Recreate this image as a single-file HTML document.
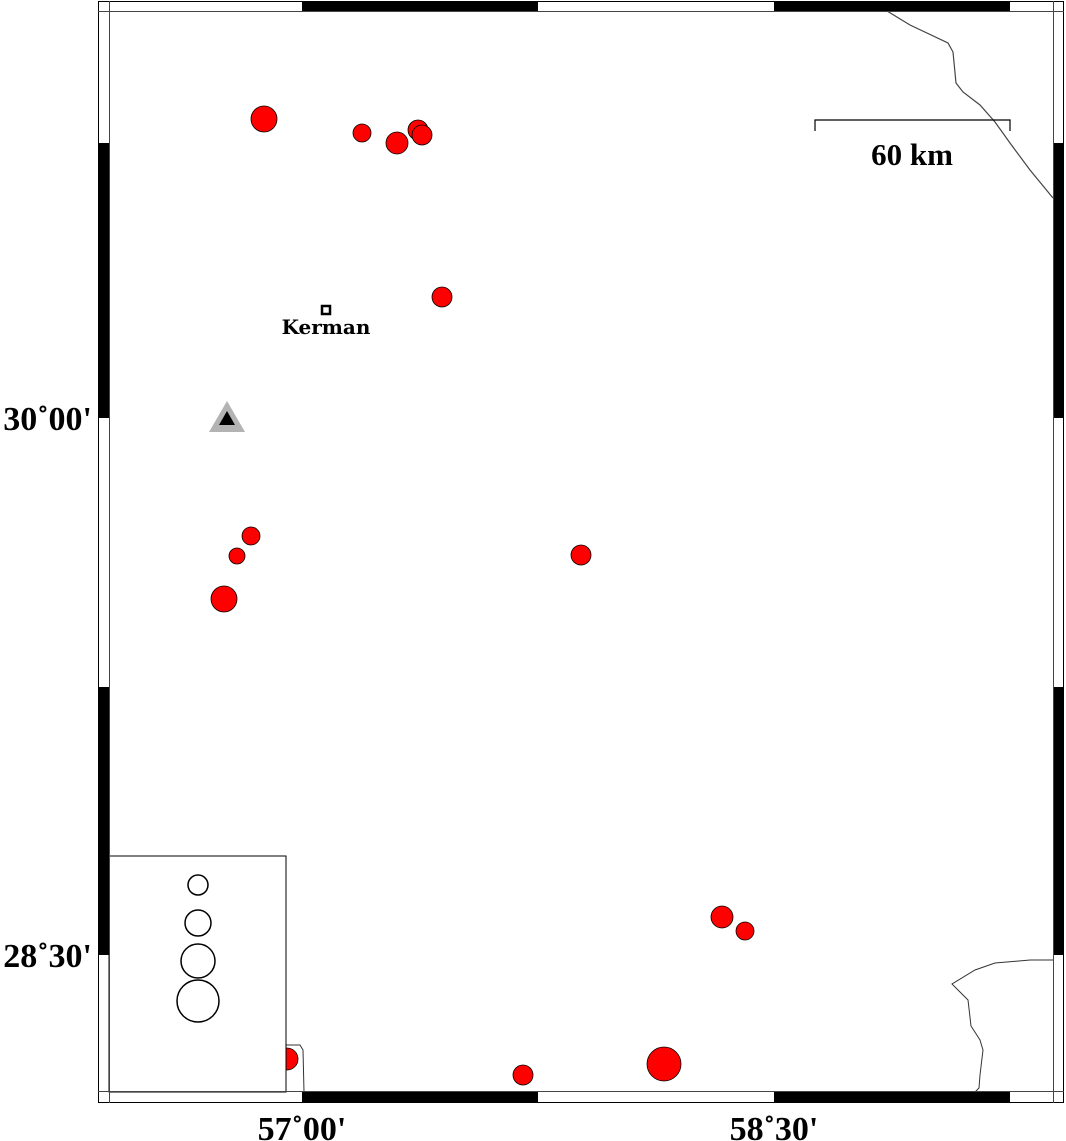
<!DOCTYPE html>
<html><head><style>
html,body{margin:0;padding:0;background:#fff;}
svg{display:block;}
</style></head><body>
<svg width="1066" height="1141" xmlns="http://www.w3.org/2000/svg">
<rect x="0" y="0" width="1066" height="1141" fill="#fff"/>
<polyline fill="none" stroke="#444" stroke-width="1.2" points="887,11 910,25 948,43 953,52 956,83 963,92 980,105 995,122 1010,143 1030,170 1053,198"/>
<polyline fill="none" stroke="#333" stroke-width="1" points="1054,960 1030,960 995,963 975,970 952,984 958,990 968,1000 971,1026 980,1040 983,1050 980,1075 979,1088 975,1092"/>
<polyline fill="none" stroke="#333" stroke-width="1" points="286,1045 300,1045 303,1050 304,1092"/>
<g fill="#ff0000" stroke="#000" stroke-width="0.8">
<circle cx="264" cy="119" r="13"/>
<circle cx="362" cy="133" r="9"/>
<circle cx="397" cy="143" r="11"/>
<circle cx="418" cy="130" r="10"/>
<circle cx="422" cy="135" r="10"/>
<circle cx="442" cy="297" r="10"/>
<circle cx="251" cy="536" r="9"/>
<circle cx="237" cy="556" r="8"/>
<circle cx="224" cy="599" r="13"/>
<circle cx="581" cy="555" r="10"/>
<circle cx="722" cy="917" r="11"/>
<circle cx="745" cy="931" r="9"/>
<circle cx="664" cy="1064" r="17"/>
<circle cx="523" cy="1075" r="10"/>
<circle cx="287" cy="1059" r="11"/>
</g>
<rect x="109" y="856" width="177" height="236" fill="#fff" stroke="#000" stroke-width="1"/>
<g fill="none" stroke="#000" stroke-width="1.5">
<circle cx="198" cy="885" r="10"/>
<circle cx="198" cy="923" r="13"/>
<circle cx="198" cy="961" r="17"/>
<circle cx="198" cy="1001" r="21"/>
</g>
<polygon points="227,401 209,432 245,432" fill="#b3b3b3"/>
<polygon points="227,411 219,425 235,425" fill="#000"/>
<rect x="322" y="306" width="8" height="8" fill="#fff" stroke="#000" stroke-width="2.5"/>
<text x="326" y="334" text-anchor="middle" font-family="'DejaVu Serif',serif" font-weight="bold" font-size="20">Kerman</text>
<polyline fill="none" stroke="#000" stroke-width="1.2" points="815,131 815,120 1010,120 1010,131"/>
<text x="912" y="165" text-anchor="middle" font-family="'Liberation Serif',serif" font-weight="bold" font-size="31">60 km</text>
<g fill="#000">
<rect x="302" y="1" width="236" height="10"/>
<rect x="774" y="1" width="236" height="10"/>
<rect x="302" y="1092" width="236" height="11"/>
<rect x="774" y="1092" width="236" height="11"/>
<rect x="98" y="143" width="11" height="275"/>
<rect x="98" y="687" width="11" height="268"/>
<rect x="1054" y="143" width="10" height="275"/>
<rect x="1054" y="687" width="10" height="268"/>
</g>
<rect x="98.5" y="1.5" width="965" height="1101" fill="none" stroke="#000" stroke-width="1"/>
<g stroke="#444" stroke-width="1">
<line x1="98" y1="11.5" x2="1064" y2="11.5"/>
<line x1="98" y1="1091.5" x2="1064" y2="1091.5"/>
<line x1="109.5" y1="1" x2="109.5" y2="1103"/>
<line x1="1053.5" y1="1" x2="1053.5" y2="1103"/>
</g>
<g font-family="'Liberation Serif',serif" font-weight="bold" font-size="34">
<text x="92" y="430" text-anchor="end">30˚00'</text>
<text x="92" y="967" text-anchor="end">28˚30'</text>
<text x="302" y="1140" text-anchor="middle">57˚00'</text>
<text x="774" y="1140" text-anchor="middle">58˚30'</text>
</g>
</svg>
</body></html>
